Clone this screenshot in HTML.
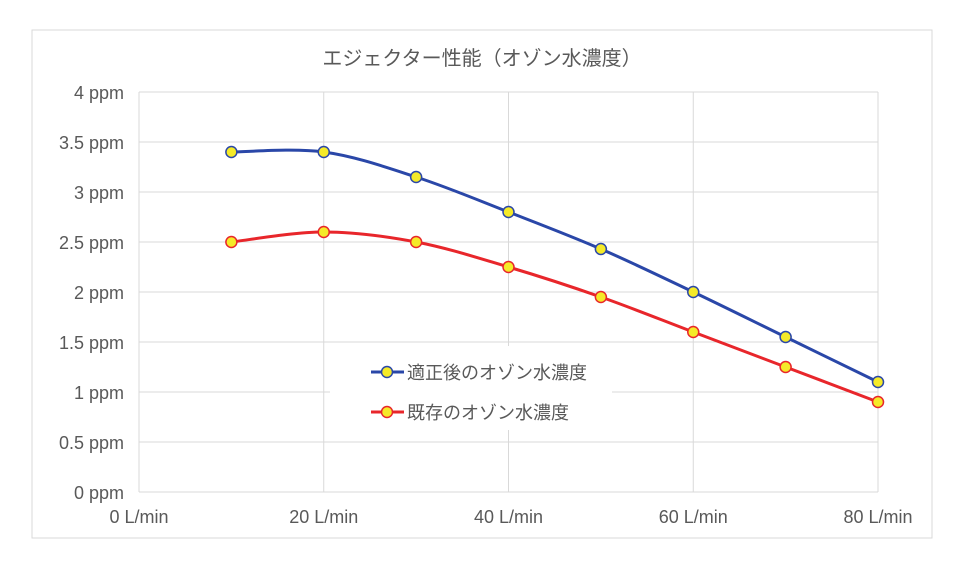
<!DOCTYPE html>
<html><head><meta charset="utf-8"><style>
body{margin:0;background:#fff;}
svg text{font-family:"Liberation Sans","Noto Sans CJK JP",sans-serif;fill:#595959;}
</style></head><body>
<svg id="c" width="964" height="567" xmlns="http://www.w3.org/2000/svg">
<rect x="32" y="30" width="900" height="508" fill="#fff" stroke="#d9d9d9"/>
<text x="482" y="65" font-size="20" text-anchor="middle">エジェクター性能（オゾン水濃度）</text>
<g id="grid"></g><g id="series"></g>
<g>
<rect x="330" y="346" width="282" height="84" fill="#fff"/>
<g>
<line x1="371" y1="372" x2="404" y2="372" stroke="#2a47a8" stroke-width="3"/>
<circle cx="387" cy="372" r="5.5" fill="#f5ea28" stroke="#2a47a8" stroke-width="1.5"/>
<text x="407" y="379" font-size="18">適正後のオゾン水濃度</text></g>
<g>
<line x1="371" y1="412" x2="404" y2="412" stroke="#e8262b" stroke-width="3"/>
<circle cx="387" cy="412" r="5.5" fill="#f5ea28" stroke="#e8262b" stroke-width="1.5"/>
<text x="407" y="419" font-size="18">既存のオゾン水濃度</text></g>
</g>
</svg>
<script>
const xCats=[10,20,30,40,50,60,70,80];
const adjusted=[3.4,3.4,3.15,2.8,2.43,2.0,1.55,1.1];
const existing=[2.5,2.6,2.5,2.25,1.95,1.6,1.25,0.9];
const yTicks=[0,0.5,1,1.5,2,2.5,3,3.5,4];
const yTickLabels=["0 ppm","0.5 ppm","1 ppm","1.5 ppm","2 ppm","2.5 ppm","3 ppm","3.5 ppm","4 ppm"];
const xTicks=[0,20,40,60,80];
const xTickLabels=["0 L/min","20 L/min","40 L/min","60 L/min","80 L/min"];
const NS="http://www.w3.org/2000/svg";
const X0=139,X1=878,Y0=492,Y1=92;
const xs=v=>X0+(X1-X0)*v/80, ys=v=>Y0-(Y0-Y1)*v/4;
function mk(t,a,p){const e=document.createElementNS(NS,t);for(const k in a)e.setAttribute(k,a[k]);p.appendChild(e);return e;}
const g=document.getElementById('grid');
yTicks.forEach((v,i)=>{
 const l=mk('line',{x1:X0,x2:X1,y1:ys(v),y2:ys(v),stroke:'#d9d9d9'},g);
 
 
 const t=mk('text',{x:124,y:ys(v)+7,'font-size':18,'text-anchor':'end'},g);t.textContent=yTickLabels[i];
 
 
});
xTicks.forEach((v,i)=>{
 const l=mk('line',{x1:xs(v),x2:xs(v),y1:Y1,y2:Y0,stroke:'#d9d9d9'},g);
 
 
 const t=mk('text',{x:xs(v),y:523,'font-size':18,'text-anchor':'middle'},g);t.textContent=xTickLabels[i];
 
 
});
const s=document.getElementById('series');
function draw(vals,col,name){
 const p=xCats.map((c,i)=>[xs(c),ys(vals[i])]);
 let d='M'+p[0];
 for(let i=0;i<p.length-1;i++){
  const a=p[Math.max(i-1,0)],b=p[i],c=p[i+1],e=p[Math.min(i+2,p.length-1)];
  d+=' C'+(b[0]+(c[0]-a[0])/6)+','+(b[1]+(c[1]-a[1])/6)+' '+(c[0]-(e[0]-b[0])/6)+','+(c[1]-(e[1]-b[1])/6)+' '+c[0]+','+c[1];
 }
 const l=mk('path',{d:d,fill:'none',stroke:col,'stroke-width':3},s);
 
 
 p.forEach(q=>{const c=mk('circle',{cx:q[0],cy:q[1],r:5.5,fill:'#f5ea28',stroke:col,'stroke-width':1.5},s);
  
  });
}
draw(existing,'#e8262b','existing');
draw(adjusted,'#2a47a8','adjusted');
</script>
</body></html>
